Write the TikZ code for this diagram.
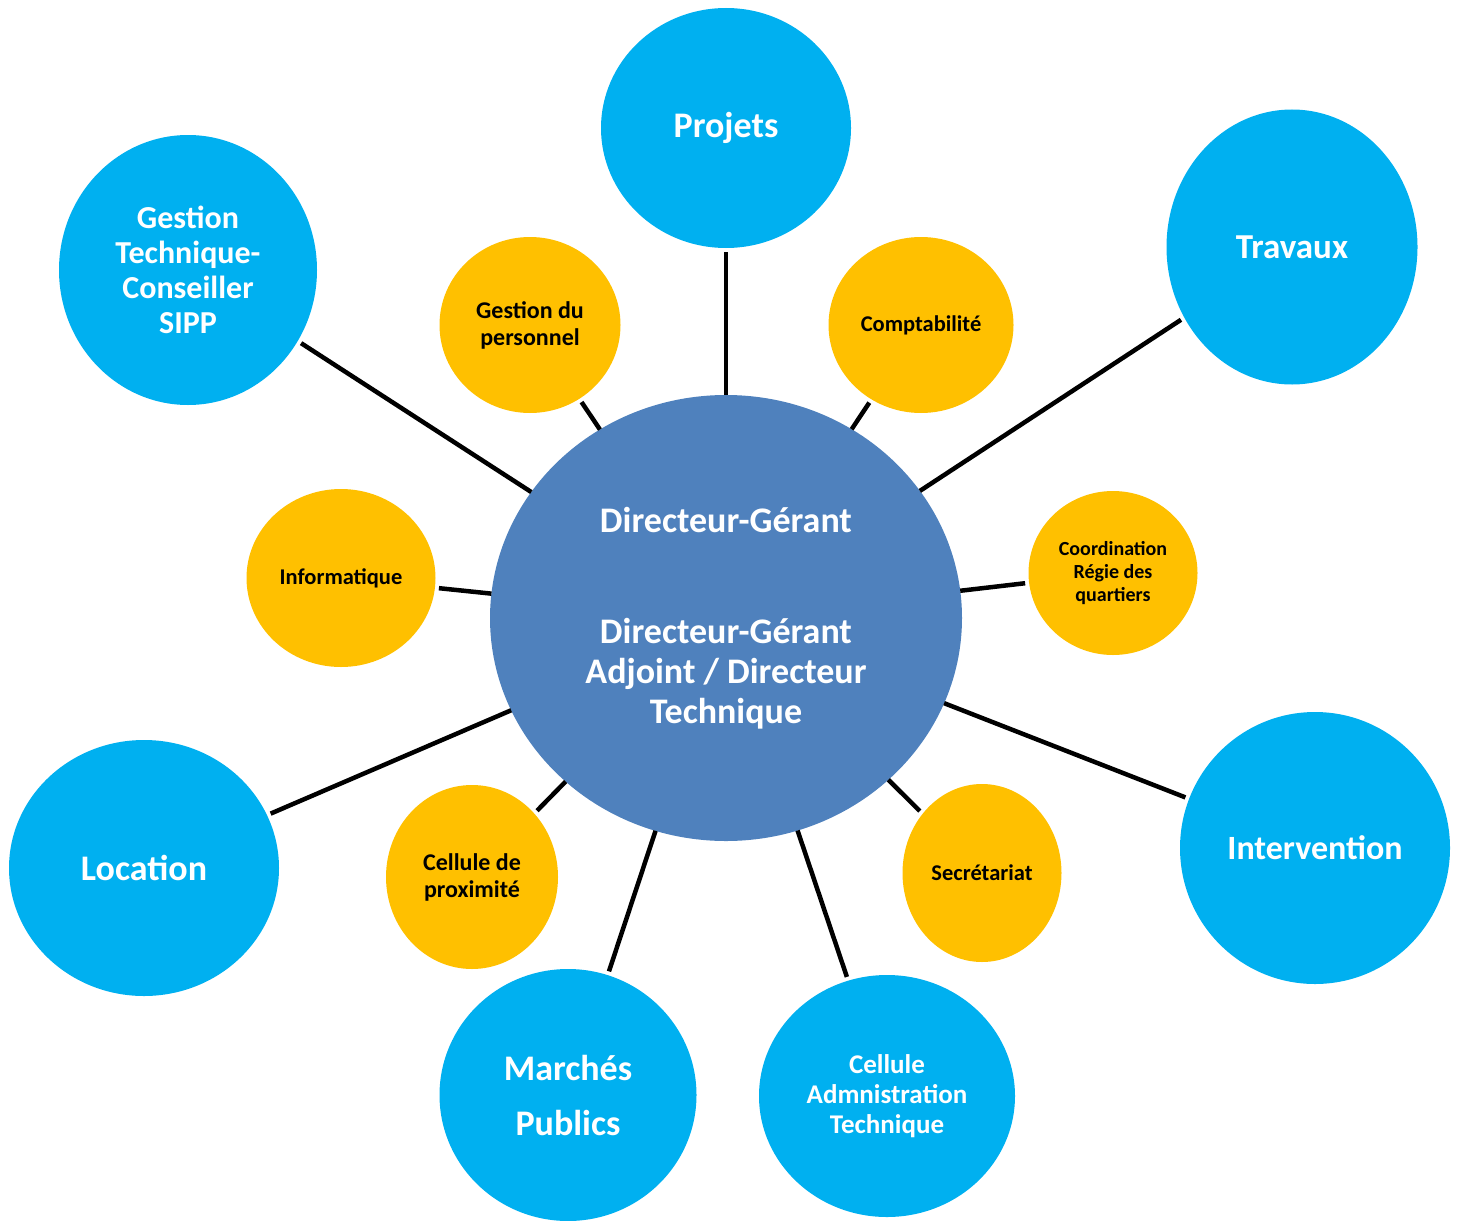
\documentclass[tikz,border=0pt]{standalone}
\usepackage{fontspec}
\setmainfont{Carlito}
\usetikzlibrary{shapes.geometric}
\definecolor{hubblue}{HTML}{4F81BD}
\definecolor{unitblue}{HTML}{00B0F0}
\definecolor{cellgold}{HTML}{FFC000}

\begin{document}
\begin{tikzpicture}[x=1pt,y=-1pt,
  bubble/.style={ellipse, inner sep=0pt, outer sep=0pt, align=center},
  hub/.style={bubble, fill=hubblue, text=white},
  unit/.style={bubble, fill=unitblue, text=white},
  cell/.style={bubble, fill=cellgold, text=black},
  fs/.style n args={2}{font=\bfseries\fontsize{#1}{#2}\selectfont},
  link/.style={line width=4.5pt, black, shorten <=4pt}
]
\useasboundingbox (0,0) rectangle (1458,1220);

% central hub
\node[hub, minimum width=472pt, minimum height=446pt, fs={36}{40}] (dg) at (726,618)
  {Directeur-Gérant\\[71pt]Directeur-Gérant\\Adjoint / Directeur\\Technique};

% departments
\node[unit, minimum width=250pt, minimum height=240pt, fs={36}{40}] (projets) at (726,128) {Projets};
\node[unit, minimum width=251pt, minimum height=275pt, fs={35}{40}] (travaux) at (1292,247) {Travaux};
\node[unit, minimum width=258pt, minimum height=270pt, fs={32}{35}] (gtech) at (188,270)
  {Gestion\\Technique-\\Conseiller\\SIPP};
\node[unit, minimum width=270pt, minimum height=256pt, fs={36}{40}] (location) at (144,868) {Location};
\node[unit, minimum width=257pt, minimum height=252pt, fs={36}{40}] (marches) at (568,1095)
  {Marchés\\[15pt]Publics};
\node[unit, minimum width=256pt, minimum height=242pt, fs={27}{30}] (cadmin) at (887,1096)
  {Cellule\\Admnistration\\Technique};
\node[unit, minimum width=270pt, minimum height=272pt, fs={34}{40}] (interv) at (1315,848) {Intervention};

% support cells
\node[cell, minimum width=181pt, minimum height=176pt, fs={24}{27}] (gperso) at (530,325)
  {Gestion du\\personnel};
\node[cell, minimum width=185pt, minimum height=176pt, fs={22.5}{27}] (compta) at (921,325) {Comptabilité};
\node[cell, minimum width=189pt, minimum height=178pt, fs={22.5}{27}] (info) at (341,578) {Informatique};
\node[cell, minimum width=169pt, minimum height=164pt, fs={20}{23}] (coord) at (1113,573)
  {Coordination\\Régie des\\quartiers};
\node[cell, minimum width=172pt, minimum height=184pt, fs={24}{27}] (prox) at (472,877)
  {Cellule de\\proximité};
\node[cell, minimum width=159pt, minimum height=178pt, fs={22.5}{27}] (secr) at (982,873) {Secrétariat};

% spokes
\foreach \n in {projets,travaux,gtech,location,marches,cadmin,interv,
                gperso,compta,info,coord,prox,secr}
  \draw[link] (\n) -- (dg);
\end{tikzpicture}
\end{document}
